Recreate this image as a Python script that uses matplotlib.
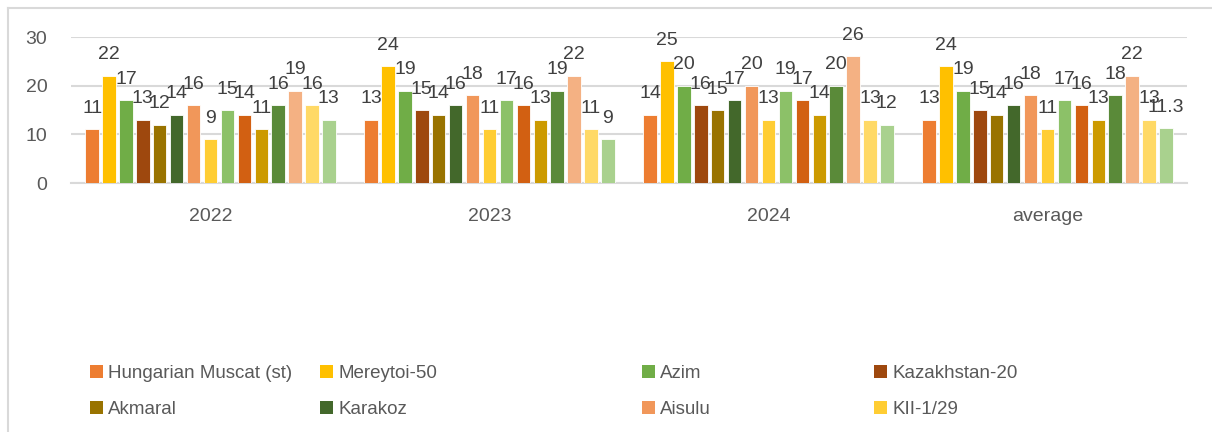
import matplotlib.pyplot as plt
from matplotlib.patches import Patch
from matplotlib.lines import Line2D
import numpy as np

plt.rcParams['font.family'] = ['Liberation Sans', 'DejaVu Sans']

categories = ['2022', '2023', '2024', 'average']
legend_names = ['Hungarian Muscat (st)', 'Mereytoi-50', 'Azim', 'Kazakhstan-20',
                'Akmaral', 'Karakoz', 'Aisulu', 'KII-1/29']

# one list per group, 15 varieties each (only first 8 are named in the visible legend)
v2022 = [11, 22, 17, 13, 12, 14, 16, 9, 15, 14, 11, 16, 19, 16, 13]
v2023 = [13, 24, 19, 15, 14, 16, 18, 11, 17, 16, 13, 19, 22, 11, 9]
v2024 = [14, 25, 20, 16, 15, 17, 20, 13, 19, 17, 14, 20, 26, 13, 12]
vavg = [13, 24, 19, 15, 14, 16, 18, 11, 17, 16, 13, 18, 22, 13, 11.3]

colors = ['#ED7D31', '#FFC000', '#70AD47', '#9E480E', '#997300', '#43682B',
          '#F1975A', '#FFCD33', '#8CC168', '#D26012', '#CC9A00', '#5A8A39',
          '#F4B183', '#FFD966', '#A9D18E']

groups = [v2022, v2023, v2024, vavg]
n = len(v2022)
W, H = 1212, 432
fig = plt.figure(figsize=(W / 100, H / 100), dpi=100)
ax = fig.add_axes([71 / W, 1 - 183 / H, (1187 - 71) / W, (183 - 37) / H])

x = np.arange(len(categories))
pitch = 0.0606
width = 0.048
for i in range(n):
    vals = [g[i] for g in groups]
    pos = x + (i - (n - 1) / 2) * pitch
    bars = ax.bar(pos, vals, width, color=colors[i], edgecolor='white', linewidth=0.6, zorder=3)
    for b, v in zip(bars, vals):
        ax.annotate(f'{v:g}', (b.get_x() + b.get_width() / 2, v), xytext=(0, 9),
                    textcoords='offset points', ha='center', va='bottom',
                    fontsize=14, color='#404040', zorder=4)

ax.set_xlim(-0.5, 3.5)
ax.set_ylim(0, 30)
ax.set_yticks([0, 10, 20, 30])
ax.set_xticks(x)
ax.set_xticklabels(categories)
ax.tick_params(axis='y', length=0, pad=17, labelsize=14, labelcolor='#595959')
ax.tick_params(axis='x', length=0, pad=18, labelsize=14, labelcolor='#595959')
ax.grid(axis='y', color='#D9D9D9', linewidth=1.5, zorder=0)
for s in ['top', 'right', 'left']:
    ax.spines[s].set_visible(False)
ax.spines['bottom'].set_color('#D9D9D9')
ax.spines['bottom'].set_linewidth(1.5)

# chart border (cut off at right and bottom)
fig.add_artist(Line2D([7.5 / W, 7.5 / W], [0, 1 - 7.5 / H], color='#D9D9D9', linewidth=1.5))
fig.add_artist(Line2D([7.5 / W, 1], [1 - 7.5 / H, 1 - 7.5 / H], color='#D9D9D9', linewidth=1.5))

# legend, row-major, four separate columns
col_x = [90, 320, 642, 874]
for c in range(4):
    hs = [Patch(facecolor=colors[c]), Patch(facecolor=colors[c + 4])]
    labs = [legend_names[c], legend_names[c + 4]]
    fig.legend(hs, labs, loc='upper left', bbox_to_anchor=(col_x[c] / W, 1 - 365 / H),
               frameon=False, fontsize=13.5, labelcolor='#595959', borderpad=0,
               borderaxespad=0, handlelength=0.67, handleheight=0.67,
               handletextpad=0.3, labelspacing=1.0)

fig.savefig('out.png', dpi=100)
